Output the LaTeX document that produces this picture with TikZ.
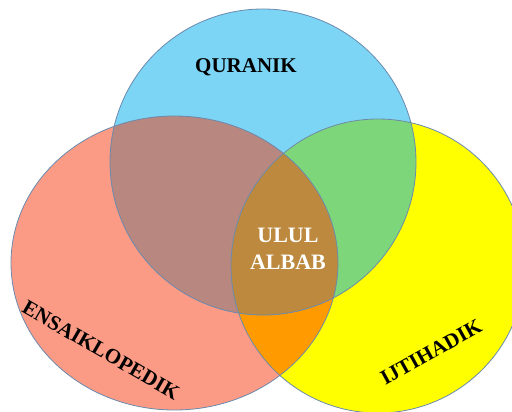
\documentclass[tikz,border=0pt]{standalone}
\usepackage{fontspec}
\setmainfont{Liberation Serif}
\definecolor{quranblue}{HTML}{7DD5F6}
\definecolor{ensred}{HTML}{FC9B85}
\definecolor{ijtyellow}{HTML}{FFFF00}
\definecolor{mixbrown}{HTML}{B8877F}
\definecolor{mixgreen}{HTML}{7ED67A}
\definecolor{mixorange}{HTML}{FF9A00}
\definecolor{mixcentre}{HTML}{BC893E}
\definecolor{rimline}{HTML}{6A8AAE}

\begin{document}
\begin{tikzpicture}[x=1pt,y=-1pt,
  rim/.style={draw=rimline, line width=0.8pt},
  lbl/.style={font=\bfseries\fontsize{21}{24}\selectfont, text=black}]
\def\qcirc{(263,162) circle [radius=153]}
\def\ecirc{(174.5,263) ellipse [x radius=163.5, y radius=147]}
\def\icirc{(378,266) circle [radius=147]}

\useasboundingbox (0,0) rectangle (512,412);
\clip (0,0) rectangle (512,412);

\fill[quranblue] \qcirc;
\fill[ensred] \ecirc;
\fill[ijtyellow] \icirc;
\begin{scope}
  \clip \ecirc;
  \fill[mixorange] \icirc;
\end{scope}
\begin{scope}
  \clip \qcirc;
  \fill[mixbrown] \ecirc;
  \fill[mixgreen] \icirc;
  \clip \ecirc;
  \fill[mixcentre] \icirc;
\end{scope}

\draw[rim] \qcirc;
\draw[rim] \ecirc;
\draw[rim] \icirc;

\node[lbl] (quranik) at (246,67) {QURANIK};
\node[lbl, rotate=-30] (ensaiklopedik) at (101,350) {ENSAIKLOPEDIK};
\node[lbl, rotate=29] (ijtihadik) at (431,352) {IJTIHADIK};
\node[font=\bfseries\fontsize{22}{27}\selectfont, text=white, align=center]
  (ululalbab) at (288,249) {ULUL\\ALBAB};
\end{tikzpicture}
\end{document}
